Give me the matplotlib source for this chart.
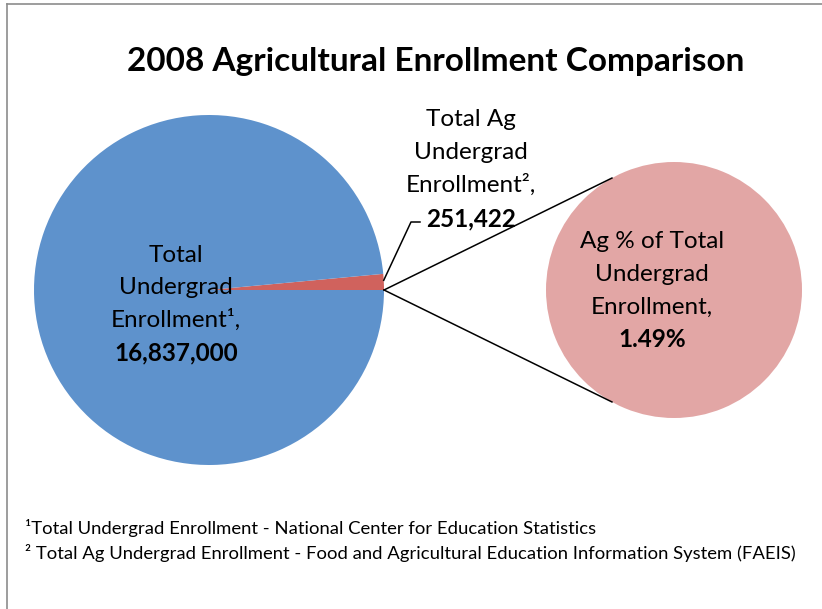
import numpy as np
import matplotlib
matplotlib.use("Agg")
from matplotlib import pyplot as plt
from matplotlib.lines import Line2D

plt.rcParams['font.family'] = ['Lato', 'DejaVu Sans']

# data
title = "2008 Agricultural Enrollment Comparison"
total_undergrad = 16837000
ag_undergrad = 251422
ag_share = 1.49
big_label = ["Total", "Undergrad", "Enrollment\u00b9,", "16,837,000"]
ag_label = ["Total Ag", "Undergrad", "Enrollment\u00b2,", "251,422"]
small_label = ["Ag % of Total", "Undergrad", "Enrollment,", "1.49%"]
footnotes = ["\u00b9Total Undergrad Enrollment - National Center for Education Statistics",
             "\u00b2 Total Ag Undergrad Enrollment - Food and Agricultural Education Information System (FAEIS)"]

blue = "#5E92CC"
red = "#D0625D"
pink = "#E2A6A5"

W, H = 822, 609
fig = plt.figure(figsize=(W/100, H/100), dpi=100)
ax = fig.add_axes([0, 0, 1, 1])

# pixel helpers (y measured from top of image)
def py(y):
    return H - y

big_c = (209, py(290))
big_r = 175
small_c = (674, py(290))
small_r = 128

# main pie: Ag wedge first, starting at 0 deg going counter clockwise
ax.pie([ag_undergrad, total_undergrad], colors=[red, blue], startangle=0,
       radius=big_r, center=big_c, wedgeprops=dict(linewidth=0))
# secondary pie showing the Ag portion
ax.pie([ag_undergrad], colors=[pink], startangle=0,
       radius=small_r, center=small_c, wedgeprops=dict(linewidth=0))

ax.set_xlim(0, W)
ax.set_ylim(0, H)
ax.set_aspect('auto')
ax.axis('off')

# connector lines from the wedge tip to the small pie
tip = (big_c[0] + big_r, big_c[1])
for ang in [119, 241]:
    a = np.deg2rad(ang)
    ex = small_c[0] + small_r*np.cos(a)
    ey = small_c[1] + small_r*np.sin(a)
    ax.plot([tip[0], ex], [tip[1], ey], color='black', lw=1.1)

# leader line for the Ag wedge label
ag_ang = np.deg2rad(360*ag_undergrad/(ag_undergrad + total_undergrad))
lx = big_c[0] + big_r*np.cos(ag_ang*0.6)
ly = big_c[1] + big_r*np.sin(ag_ang*0.6)
ax.plot([lx, 411, 420], [ly, py(222), py(222)], color='black', lw=1.1)

# title
ax.text(436, py(62), title, ha='center', va='center', fontsize=24,
        fontweight='bold', color='black')

def lines(x, baselines, txt, size=17.5):
    for i, (t, b) in enumerate(zip(txt, baselines)):
        ax.text(x, py(b), t, ha='center', va='baseline', fontsize=size,
                fontweight='bold' if i == len(txt) - 1 else 'normal',
                color='black')

lines(176, [262, 294, 327, 360], big_label)
lines(471, [126, 159, 192, 226], ag_label)
lines(652, [248, 281, 314, 347], small_label)

for t, b in zip(footnotes, [534, 559]):
    ax.text(25, py(b), t, ha='left', va='baseline', fontsize=13.3, color='black')

# chart border (left and top edges visible)
fig.add_artist(Line2D([7/W, 7/W], [0, 1 - 4/H], transform=fig.transFigure,
                      color='#8c8c8c', lw=1.2))
fig.add_artist(Line2D([7/W, 1], [1 - 4/H, 1 - 4/H], transform=fig.transFigure,
                      color='#8c8c8c', lw=1.2))

fig.savefig("out.png", dpi=100)
